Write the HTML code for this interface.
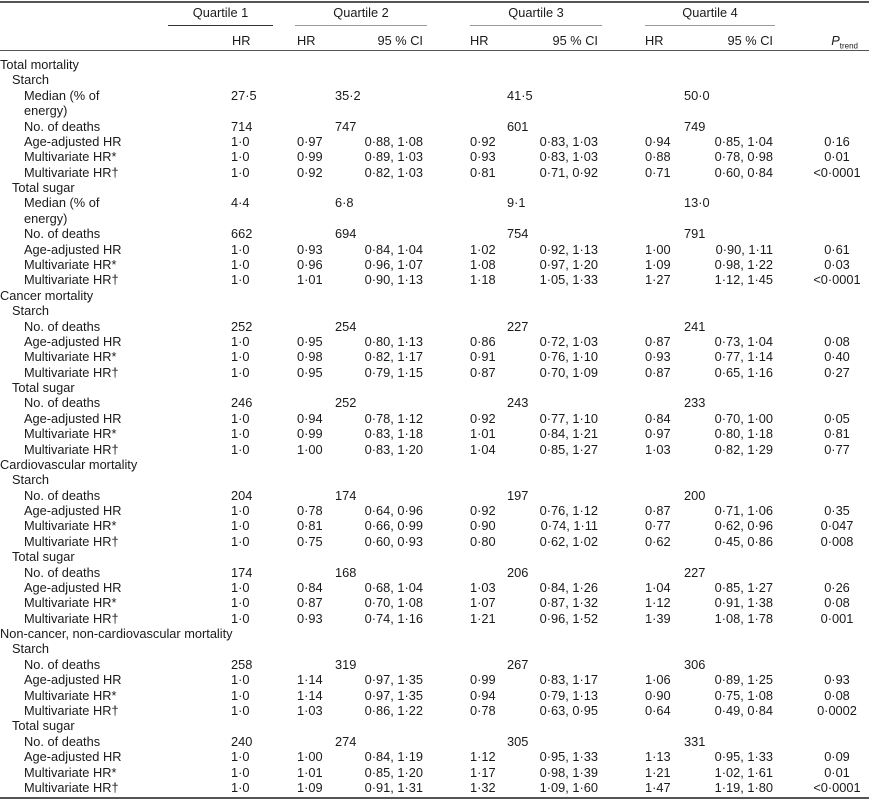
<!DOCTYPE html>
<html><head><meta charset="utf-8">
<style>
html,body{margin:0;padding:0;background:#fff;}
#t{position:relative;width:869px;height:805px;font-family:"Liberation Sans",Arial,sans-serif;font-size:12.8px;color:#1a1a1a;overflow:hidden;}
#t div{position:absolute;white-space:nowrap;line-height:14px;}
.ln{height:0;}
</style></head><body>
<div id="t">
  <div class="ln" style="left:0;top:1px;width:869px;border-top:2px solid #555;"></div>
  <div style="left:168px;width:105px;top:6px;text-align:center;">Quartile 1</div>
  <div style="left:295px;width:132px;top:6px;text-align:center;">Quartile 2</div>
  <div style="left:470px;width:132px;top:6px;text-align:center;">Quartile 3</div>
  <div style="left:645px;width:130px;top:6px;text-align:center;">Quartile 4</div>
  <div class="ln" style="left:168px;top:25px;width:105px;border-top:1.5px solid #333;"></div>
  <div class="ln" style="left:295px;top:25px;width:132px;border-top:1px solid #999;"></div>
  <div class="ln" style="left:470px;top:25px;width:132px;border-top:1px solid #999;"></div>
  <div class="ln" style="left:645px;top:25px;width:130px;border-top:1px solid #999;"></div>
  <div style="left:232px;top:34px;">HR</div>
  <div style="left:297px;top:34px;">HR</div>
  <div style="right:446px;top:34px;">95 % CI</div>
  <div style="left:470px;top:34px;">HR</div>
  <div style="right:271px;top:34px;">95 % CI</div>
  <div style="left:645px;top:34px;">HR</div>
  <div style="right:96px;top:34px;">95 % CI</div>
  <div style="right:11px;top:34px;"><i>P</i><sub style="font-size:8px;">trend</sub></div>
  <div class="ln" style="left:0;top:50px;width:869px;border-top:1.5px solid #555;"></div>
  <div class="ln" style="left:0;top:797px;width:869px;border-top:2px solid #555;"></div>
</div>
<script>
// [level, label, q1, q2hr, q2ci, q3hr, q3ci, q4hr, q4ci, p, kind]  kind: 'm' = median/count row
const rows = [
[0,"Total mortality"],
[1,"Starch"],
[2,"Median (% of","27·5","35·2","","41·5","","50·0","","","m"],
[2,"energy)"],
[2,"No. of deaths","714","747","","601","","749","","","m"],
[2,"Age-adjusted HR","1·0","0·97","0·88, 1·08","0·92","0·83, 1·03","0·94","0·85, 1·04","0·16"],
[2,"Multivariate HR*","1·0","0·99","0·89, 1·03","0·93","0·83, 1·03","0·88","0·78, 0·98","0·01"],
[2,"Multivariate HR†","1·0","0·92","0·82, 1·03","0·81","0·71, 0·92","0·71","0·60, 0·84","<0·0001"],
[1,"Total sugar"],
[2,"Median (% of","4·4","6·8","","9·1","","13·0","","","m"],
[2,"energy)"],
[2,"No. of deaths","662","694","","754","","791","","","m"],
[2,"Age-adjusted HR","1·0","0·93","0·84, 1·04","1·02","0·92, 1·13","1·00","0·90, 1·11","0·61"],
[2,"Multivariate HR*","1·0","0·96","0·96, 1·07","1·08","0·97, 1·20","1·09","0·98, 1·22","0·03"],
[2,"Multivariate HR†","1·0","1·01","0·90, 1·13","1·18","1·05, 1·33","1·27","1·12, 1·45","<0·0001"],
[0,"Cancer mortality"],
[1,"Starch"],
[2,"No. of deaths","252","254","","227","","241","","","m"],
[2,"Age-adjusted HR","1·0","0·95","0·80, 1·13","0·86","0·72, 1·03","0·87","0·73, 1·04","0·08"],
[2,"Multivariate HR*","1·0","0·98","0·82, 1·17","0·91","0·76, 1·10","0·93","0·77, 1·14","0·40"],
[2,"Multivariate HR†","1·0","0·95","0·79, 1·15","0·87","0·70, 1·09","0·87","0·65, 1·16","0·27"],
[1,"Total sugar"],
[2,"No. of deaths","246","252","","243","","233","","","m"],
[2,"Age-adjusted HR","1·0","0·94","0·78, 1·12","0·92","0·77, 1·10","0·84","0·70, 1·00","0·05"],
[2,"Multivariate HR*","1·0","0·99","0·83, 1·18","1·01","0·84, 1·21","0·97","0·80, 1·18","0·81"],
[2,"Multivariate HR†","1·0","1·00","0·83, 1·20","1·04","0·85, 1·27","1·03","0·82, 1·29","0·77"],
[0,"Cardiovascular mortality"],
[1,"Starch"],
[2,"No. of deaths","204","174","","197","","200","","","m"],
[2,"Age-adjusted HR","1·0","0·78","0·64, 0·96","0·92","0·76, 1·12","0·87","0·71, 1·06","0·35"],
[2,"Multivariate HR*","1·0","0·81","0·66, 0·99","0·90","0·74, 1·11","0·77","0·62, 0·96","0·047"],
[2,"Multivariate HR†","1·0","0·75","0·60, 0·93","0·80","0·62, 1·02","0·62","0·45, 0·86","0·008"],
[1,"Total sugar"],
[2,"No. of deaths","174","168","","206","","227","","","m"],
[2,"Age-adjusted HR","1·0","0·84","0·68, 1·04","1·03","0·84, 1·26","1·04","0·85, 1·27","0·26"],
[2,"Multivariate HR*","1·0","0·87","0·70, 1·08","1·07","0·87, 1·32","1·12","0·91, 1·38","0·08"],
[2,"Multivariate HR†","1·0","0·93","0·74, 1·16","1·21","0·96, 1·52","1·39","1·08, 1·78","0·001"],
[0,"Non-cancer, non-cardiovascular mortality"],
[1,"Starch"],
[2,"No. of deaths","258","319","","267","","306","","","m"],
[2,"Age-adjusted HR","1·0","1·14","0·97, 1·35","0·99","0·83, 1·17","1·06","0·89, 1·25","0·93"],
[2,"Multivariate HR*","1·0","1·14","0·97, 1·35","0·94","0·79, 1·13","0·90","0·75, 1·08","0·08"],
[2,"Multivariate HR†","1·0","1·03","0·86, 1·22","0·78","0·63, 0·95","0·64","0·49, 0·84","0·0002"],
[1,"Total sugar"],
[2,"No. of deaths","240","274","","305","","331","","","m"],
[2,"Age-adjusted HR","1·0","1·00","0·84, 1·19","1·12","0·95, 1·33","1·13","0·95, 1·33","0·09"],
[2,"Multivariate HR*","1·0","1·01","0·85, 1·20","1·17","0·98, 1·39","1·21","1·02, 1·61","0·01"],
[2,"Multivariate HR†","1·0","1·09","0·91, 1·31","1·32","1·09, 1·60","1·47","1·19, 1·80","<0·0001"]
];
const t=document.getElementById('t');
const y0=58, dy=15.38;
function cell(txt,style,name){
  if(!txt) return;
  const d=document.createElement('div');
  d.textContent=txt;
  d.setAttribute('style',style);
  
  
  t.appendChild(d);
}
rows.forEach((r,i)=>{
  const top=(y0+i*dy).toFixed(1)+'px';
  const m=r[10]==='m';
  cell(r[1],'left:'+(r[0]*12)+'px;top:'+top,'row-label');
  cell(r[2],'left:231px;top:'+top,'q1-value');
  cell(r[3],'left:'+(m?335:297)+'px;top:'+top,'q2-value');
  cell(r[4],'right:446px;top:'+top,'q2-ci');
  cell(r[5],'left:'+(m?507:470)+'px;top:'+top,'q3-value');
  cell(r[6],'right:271px;top:'+top,'q3-ci');
  cell(r[7],'left:'+(m?684:645)+'px;top:'+top,'q4-value');
  cell(r[8],'right:96px;top:'+top,'q4-ci');
  cell(r[9],'left:787px;width:100px;text-align:center;top:'+top,'p-trend-value');
});
</script>
</body></html>
